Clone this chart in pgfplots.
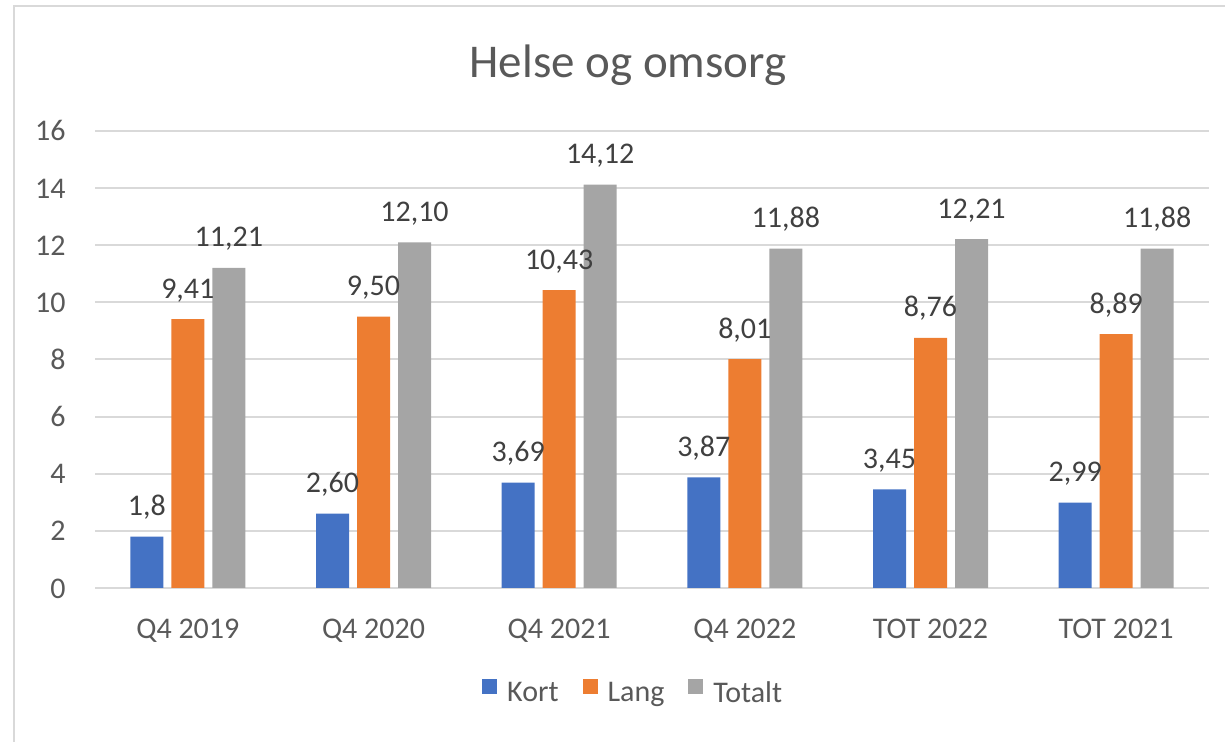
\documentclass[border=0pt]{standalone}
\usepackage{fontspec}
\setmainfont{Carlito}
\usepackage{pgfplots}
\usepackage{pgfplotstable}
\pgfplotsset{compat=1.18}
\definecolor{cKort}{HTML}{4472C4}
\definecolor{cLang}{HTML}{ED7D31}
\definecolor{cTot}{HTML}{A5A5A5}
\definecolor{cGrid}{HTML}{D9D9D9}
\definecolor{cText}{HTML}{595959}
\definecolor{cLab}{HTML}{404040}

\pgfplotstableread{
x y lab
0 1.80 1,8
1 2.60 2,60
2 3.69 3,69
3 3.87 3,87
4 3.45 3,45
5 2.99 2,99
}\kort
\pgfplotstableread{
x y lab
0 9.41 9,41
1 9.50 9,50
2 10.43 10,43
3 8.01 8,01
4 8.76 8,76
5 8.89 8,89
}\lang
\pgfplotstableread{
x y lab
0 11.21 11,21
1 12.10 12,10
2 14.12 14,12
3 11.88 11,88
4 12.21 12,21
5 11.88 11,88
}\totalt

\begin{document}
\begin{tikzpicture}[font=\fontsize{15bp}{18bp}\selectfont]
\useasboundingbox (0,0) rectangle (612.5bp,371bp);
\draw[cGrid, line width=1bp] (7bp,-10bp) |- (630bp,368bp);
\node[anchor=base, text=cText, font=\fontsize{23.5bp}{28bp}\selectfont] at (314bp,332bp) {Helse og omsorg};
\begin{axis}[
  at={(47.5bp,77bp)}, anchor=south west, scale only axis,
  width=557bp, height=228.5bp,
  ybar, bar width=16.5bp,
  ymin=0, ymax=16, ytick={0,2,...,16},
  xmin=-0.5, xmax=5.5, xtick={0,...,5},
  xticklabels={Q4 2019,Q4 2020,Q4 2021,Q4 2022,TOT 2022,TOT 2021},
  major tick length=0pt, axis line style={draw=none},
  ymajorgrids, grid style={cGrid, line width=1bp},
  /pgf/number format/assume math mode=true,
  tick label style={font=\fontsize{15bp}{18bp}\selectfont, text=cText, inner sep=0pt},
  xticklabel style={anchor=base, yshift=-25bp},
  yticklabel style={anchor=base east, xshift=-14.5bp, yshift=-5bp},
  nodes near coords, point meta=explicit symbolic,
  nodes near coords style={anchor=base, yshift=10.5bp, text=cLab, inner sep=0pt,
    font=\fontsize{15bp}{18bp}\selectfont},
  legend style={draw=none, at={(0.484,-0.23)}, anchor=center, legend columns=3,
    font=\fontsize{15bp}{18bp}\selectfont, text=cText,
    /tikz/every odd column/.append style={column sep=3bp},
    /tikz/every even column/.append style={column sep=10bp}},
  legend image code/.code={\fill[#1] (0bp,-0.3bp) rectangle (7.5bp,7.2bp);},
]
\addplot[fill=cKort, draw=none, bar shift=-20.5bp] table[x=x, y=y, meta=lab] {\kort};
\addplot[fill=cLang, draw=none, bar shift=0bp] table[x=x, y=y, meta=lab] {\lang};
\addplot[fill=cTot, draw=none, bar shift=20.5bp] table[x=x, y=y, meta=lab] {\totalt};
\legend{Kort, Lang, Totalt}
\end{axis}
\end{tikzpicture}
\end{document}
